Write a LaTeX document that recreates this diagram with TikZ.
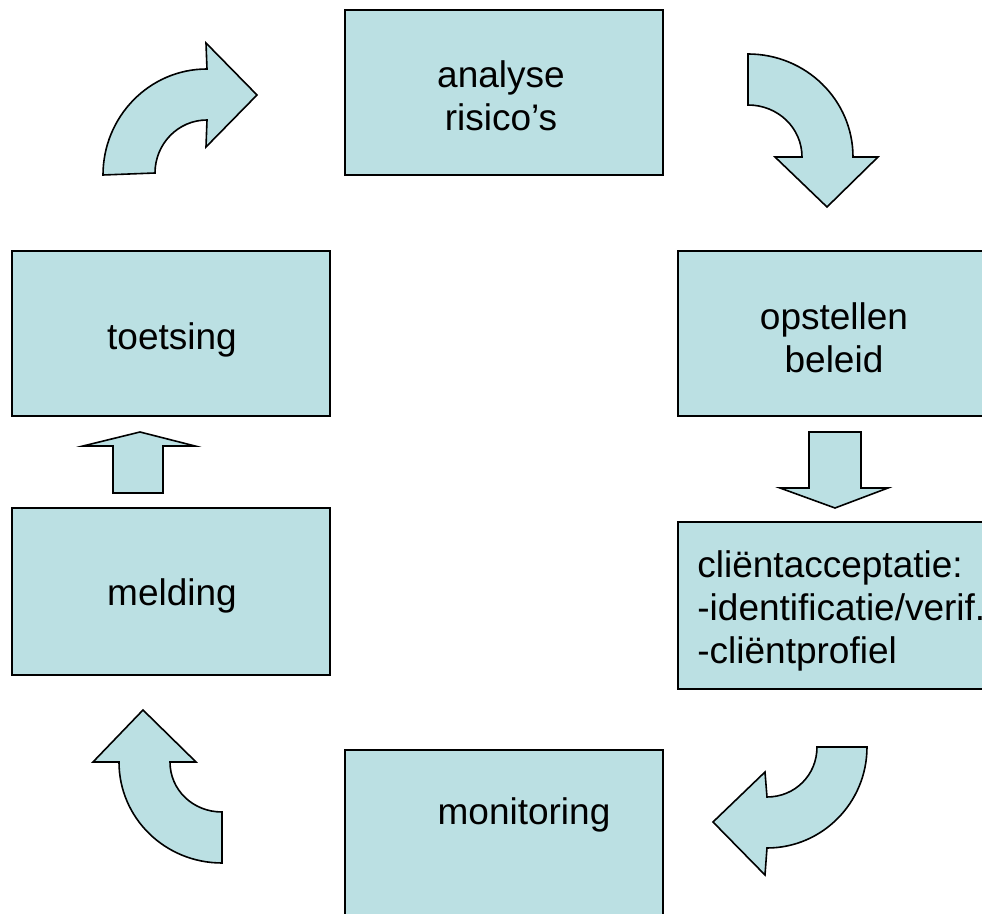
\documentclass[tikz,border=0pt]{standalone}
\usepackage{fontspec}
\setmainfont{Liberation Sans}
\definecolor{boxfill}{RGB}{187,224,227}
\begin{document}
\begin{tikzpicture}[x=0.5pt,y=-0.5pt,
  box/.style={draw=black, line width=0.8pt, fill=boxfill, anchor=north west, inner sep=0pt, outer sep=0pt},
  txt/.style={font=\fontsize{18.5}{21.5}\selectfont, inner sep=0pt, align=center},
  blockarrow/.style={draw=black, line width=0.8pt, fill=boxfill, line join=miter}]
\useasboundingbox (0,0) rectangle (982,914);
\clip (0,0) rectangle (982,914);
% boxes
\node[box, minimum width=159pt, minimum height=82.5pt] (analyse) at (345,10) {};
\node[box, minimum width=159pt, minimum height=82.5pt] (toetsing) at (12,251) {};
\node[box, minimum width=159pt, minimum height=83.5pt] (melding) at (12,508) {};
\node[box, minimum width=170pt, minimum height=82.5pt] (beleid) at (678,251) {};
\node[box, minimum width=170pt, minimum height=83.5pt] (client) at (678,522) {};
\node[box, minimum width=159pt, minimum height=100pt] (monitoring) at (345,750) {};
% texts
\node[txt] (analyseT) at (501,96) {analyse\\ risico’s};
\node[txt] (toetsingT) at (172,340) {toetsing};
\node[txt] (meldingT) at (172,596) {melding};
\node[txt] (beleidT) at (834,338) {opstellen\\ beleid};
\node[txt, align=left, anchor=west] (clientT) at (697,611) {cliëntacceptatie:\\-identificatie/verif.\\-cliëntprofiel};
\node[txt] (monitoringT) at (524,815) {monitoring};
% curved block arrows
\draw[blockarrow] (103,175) .. controls (103,117) and (149,69) .. (207,69)
  -- (206,43) -- (257,95) -- (206,147) -- (207,120)
  .. controls (178,120) and (155,144) .. (155,173) -- cycle;
\draw[blockarrow] (748,54) .. controls (806,54) and (853,100) .. (853,157)
  -- (878,157) -- (827,207) -- (775,157) -- (802,157)
  .. controls (802,128) and (778,105) .. (748,105) -- cycle;
\draw[blockarrow] (867,747) .. controls (867,803) and (822,848) .. (767,848)
  -- (765,875) -- (713,822) -- (765,772) -- (767,797)
  .. controls (795,797) and (817,775) .. (817,747) -- cycle;
\draw[blockarrow] (222,863) .. controls (165,863) and (119,818) .. (119,762)
  -- (93,762) -- (143,710) -- (196,762) -- (170,762)
  .. controls (170,790) and (193,812) .. (222,812) -- cycle;
% straight block arrows
\draw[blockarrow] (809,432) -- (861,432) -- (861,488) -- (888,488) -- (835,508) -- (780,488) -- (809,488) -- cycle;
\draw[blockarrow] (113,493) -- (113,446) -- (83,446) -- (140,432) -- (195,446) -- (163,446) -- (163,493) -- cycle;
\end{tikzpicture}
\end{document}
